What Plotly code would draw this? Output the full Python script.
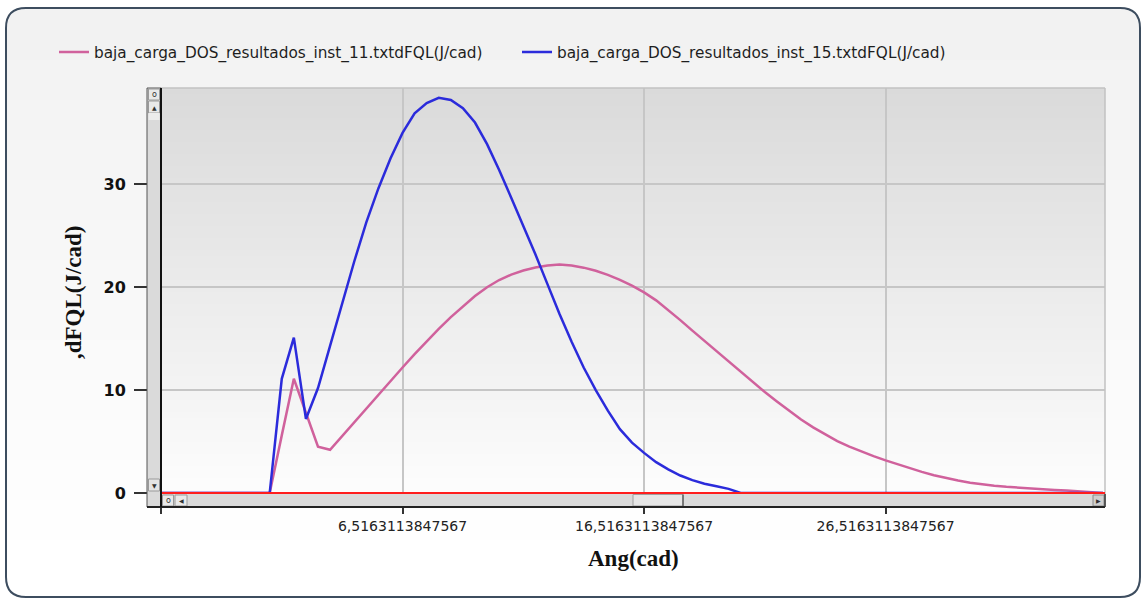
import plotly.graph_objects as go

# ---------------- data ----------------
X0 = -3.4836886152433          # first angle sample
STEP = 0.5                     # angle step between samples
series_11_name = "baja_carga_DOS_resultados_inst_11.txtdFQL(J/cad)"
series_15_name = "baja_carga_DOS_resultados_inst_15.txtdFQL(J/cad)"

dfql_11 = [0] * 10 + [
    5.6, 11.1, 7.8, 4.5, 4.2, 5.55, 6.9, 8.25, 9.6, 10.9,
    12.2, 13.5, 14.75, 15.95, 17.1, 18.15, 19.15, 20.0, 20.7, 21.22,
    21.62, 21.92, 22.12, 22.2, 22.12, 21.9, 21.6, 21.2, 20.72, 20.15,
    19.5, 18.72, 17.8, 16.8, 15.78, 14.78, 13.79, 12.8, 11.8, 10.8,
    9.81, 8.9, 8.0, 7.15, 6.38, 5.68, 5.05, 4.5, 4.02, 3.58,
    3.17, 2.78, 2.4, 2.05, 1.73, 1.45, 1.21, 1.0, 0.84, 0.71,
    0.6, 0.51, 0.43, 0.36, 0.3, 0.24, 0.15, 0.05, 0,
]
dfql_15 = [0] * 10 + [
    11.1, 15.1, 7.2, 10.2, 14.3, 18.5, 22.5, 26.3, 29.6, 32.5,
    35.0, 36.9, 37.9, 38.4, 38.2, 37.4, 36.0, 33.9, 31.4, 28.7,
    26.0, 23.2, 20.3, 17.4, 14.7, 12.2, 10.0, 8.0, 6.2, 4.9,
    3.9, 3.0, 2.3, 1.7, 1.25, 0.9, 0.65, 0.4, 0,
] + [0] * 30
ang = [X0 + STEP * i for i in range(len(dfql_11))]

x_tick_vals = [X0, 6.5163113847567, 16.5163113847567, 26.5163113847567]
x_tick_text = ["", "6,5163113847567", "16,5163113847567", "26,5163113847567"]
y_tick_vals = [0, 10, 20, 30]
y_tick_text = ["0", "10", "20", "30"]
X_RANGE = [X0, 35.6]
Y_RANGE = [-1.36, 39.36]

x_title = "Ang(cad)"
y_title = ",dFQL(J/cad)"

# ---------------- layout geometry (pixels) ----------------
W, H = 1142, 600
L, R, T, B = 161, 1105, 88, 507
PW, PH = R - L, B - T


def px(x):
    return (x - L) / PW


def py(y):
    return (B - y) / PH


def rect(x0, y0, x1, y1, fill, line=None, lw=0, layer="below"):
    return dict(type="rect", xref="paper", yref="paper",
                x0=px(x0), x1=px(x1), y0=py(y1), y1=py(y0),
                fillcolor=fill, line=dict(color=line or fill, width=lw),
                layer=layer)


def line(x0, y0, x1, y1, color, width, layer="above"):
    return dict(type="line", xref="paper", yref="paper",
                x0=px(x0), x1=px(x1), y0=py(y0), y1=py(y1),
                line=dict(color=color, width=width), layer=layer)


def rounded_path(x0, y0, x1, y1, r, top_only_to=None):
    P = lambda a, b: f"{px(a):.5f},{py(b):.5f}"
    if top_only_to is not None:
        yc = top_only_to
        return (f"M {P(x0, yc)} L {P(x0, y0 + r)} Q {P(x0, y0)} {P(x0 + r, y0)} "
                f"L {P(x1 - r, y0)} Q {P(x1, y0)} {P(x1, y0 + r)} L {P(x1, yc)} Z")
    return (f"M {P(x0 + r, y0)} L {P(x1 - r, y0)} Q {P(x1, y0)} {P(x1, y0 + r)} "
            f"L {P(x1, y1 - r)} Q {P(x1, y1)} {P(x1 - r, y1)} L {P(x0 + r, y1)} "
            f"Q {P(x0, y1)} {P(x0, y1 - r)} L {P(x0, y0 + r)} Q {P(x0, y0)} {P(x0 + r, y0)} Z")


shapes = []
# outer rounded panel with soft vertical gradient
PX0, PY0, PX1, PY1, RAD = 6, 8, 1140, 597, 20
shapes.append(dict(type="path", xref="paper", yref="paper",
                   path=rounded_path(PX0, PY0, PX1, PY1, RAD),
                   fillcolor="white", line=dict(width=0), layer="below"))
shapes.append(dict(type="path", xref="paper", yref="paper",
                   path=rounded_path(PX0 + 1, PY0 + 1, PX1 - 1, PY1, RAD, top_only_to=31),
                   fillcolor="rgb(242,242,242)", line=dict(width=0), layer="below"))
for y in range(30, 560, 10):
    v = int(round(242 + (y - 30) / 530 * 13))
    shapes.append(rect(PX0 + 1, y, PX1 - 1, y + 11, f"rgb({v},{v},{v})"))
shapes.append(dict(type="path", xref="paper", yref="paper",
                   path=rounded_path(PX0, PY0, PX1, PY1, RAD),
                   fillcolor="rgba(0,0,0,0)", line=dict(color="#3d4d5f", width=2),
                   layer="below"))
# plot-area gradient
for y in range(T, B, 6):
    v = min(253, int(round(218 + (y - T) / 405 * 35)))
    shapes.append(rect(L, y, R, y + 7, f"rgb({v},{v},{v})"))

# top / right plot borders
shapes.append(line(L, T, R, T, "#c2c2c2", 1.5))
shapes.append(line(R, T, R, B, "#c2c2c2", 1.5))

# red zero line over the curves
shapes.append(dict(type="line", xref="x", yref="y", x0=X_RANGE[0], x1=X_RANGE[1],
                   y0=0, y1=0, line=dict(color="#ff1e1e", width=1.8), layer="above"))

# vertical scrollbar
shapes.append(rect(147, T, 161, B, "#dadada", "#555555", 1, layer="above"))
shapes.append(rect(148.5, 89, 159.5, 100, "#e9e9e9", "#9a9a9a", 1, layer="above"))
shapes.append(rect(148.5, 101, 159.5, 113, "#e9e9e9", "#9a9a9a", 1, layer="above"))
shapes.append(rect(148.5, 113, 159.5, 120, "#ececec", layer="above"))
shapes.append(rect(148.5, 479, 159.5, 491, "#e4e4e4", "#9a9a9a", 1, layer="above"))
# horizontal scrollbar
shapes.append(rect(L, 494, R, B, "#dadada", "#dadada", 0, layer="above"))
shapes.append(rect(162.5, 495, 173.5, 506, "#e9e9e9", "#9a9a9a", 1, layer="above"))
shapes.append(rect(175, 495, 187, 506, "#e9e9e9", "#9a9a9a", 1, layer="above"))
shapes.append(rect(633, 494.5, 683, 506, "#e6e6e6", "#a0a0a0", 1, layer="above"))
shapes.append(line(683, 494.5, 683, 506, "#606060", 1.5))
shapes.append(rect(1093, 495, 1104, 506, "#cfcfcf", "#8a8a8a", 1, layer="above"))
# dark frame lines
shapes.append(line(147, B, R, B, "#222222", 2))
shapes.append(line(L, T, L, B, "#111111", 2))
shapes.append(line(R, 494, R, B, "#333333", 1.5))

annotations = [
    dict(text=f"<b>{x_title}</b>", xref="paper", yref="paper", x=px(633), y=py(558),
         showarrow=False, xanchor="center", yanchor="middle",
         font=dict(family="Liberation Serif", size=23, color="#111111")),
    dict(text=f"<b>{y_title}</b>", xref="paper", yref="paper", x=px(73), y=py(292),
         showarrow=False, xanchor="center", yanchor="middle", textangle=-90,
         font=dict(family="Liberation Serif", size=23, color="#111111")),
]
glyphs = [("o", 154, 94.5, 8), ("▲", 154, 107, 6), ("▼", 154, 485, 6),
          ("o", 168, 500.5, 8), ("◀", 181, 500.5, 6), ("▶", 1098.5, 500.5, 6)]
for g, gx, gy, gs in glyphs:
    annotations.append(dict(text=g, xref="paper", yref="paper", x=px(gx), y=py(gy),
                            showarrow=False, xanchor="center", yanchor="middle",
                            font=dict(family="DejaVu Sans", size=gs, color="#333333")))

fig = go.Figure()
fig.add_trace(go.Scatter(x=ang, y=dfql_11, mode="lines", name=series_11_name,
                         line=dict(color="#d0619c", width=2.5)))
fig.add_trace(go.Scatter(x=ang, y=dfql_15, mode="lines", name=series_15_name,
                         line=dict(color="#2b2bdb", width=2.5)))

fig.update_layout(
    width=W, height=H,
    margin=dict(l=L, r=W - R, t=T, b=H - B, pad=0),
    paper_bgcolor="white", plot_bgcolor="white",
    font=dict(family="DejaVu Sans", color="#222222"),
    showlegend=True,
    legend=dict(orientation="h", x=px(54), y=py(52), xanchor="left", yanchor="middle",
                bgcolor="rgba(0,0,0,0)",
                font=dict(family="DejaVu Sans", size=15.3, color="#1e1e1e"),
                itemwidth=30, tracegroupgap=0, entrywidth=418, entrywidthmode="pixels"),
    shapes=shapes,
    annotations=annotations,
    xaxis=dict(range=X_RANGE, tickmode="array", tickvals=x_tick_vals, ticktext=x_tick_text,
               showgrid=True, gridcolor="#c6c6c6", gridwidth=1.5, zeroline=False,
               showline=False, ticks="outside", ticklen=6, tickwidth=1.5, tickcolor="#333333",
               tickfont=dict(family="DejaVu Sans", size=14, color="#222222")),
    yaxis=dict(range=Y_RANGE, tickmode="array", tickvals=y_tick_vals, ticktext=y_tick_text,
               showgrid=True, gridcolor="#c6c6c6", gridwidth=1.5, zeroline=False,
               showline=False, ticks="outside", ticklen=26, tickwidth=1.5, tickcolor="#333333",
               ticklabelstandoff=5,
               tickfont=dict(family="DejaVu Sans", size=16, color="#111111", weight="bold")),
)

fig.write_html("out.html", config={"displayModeBar": False},
               post_script="document.body.style.margin='0';document.body.style.overflow='hidden';")
